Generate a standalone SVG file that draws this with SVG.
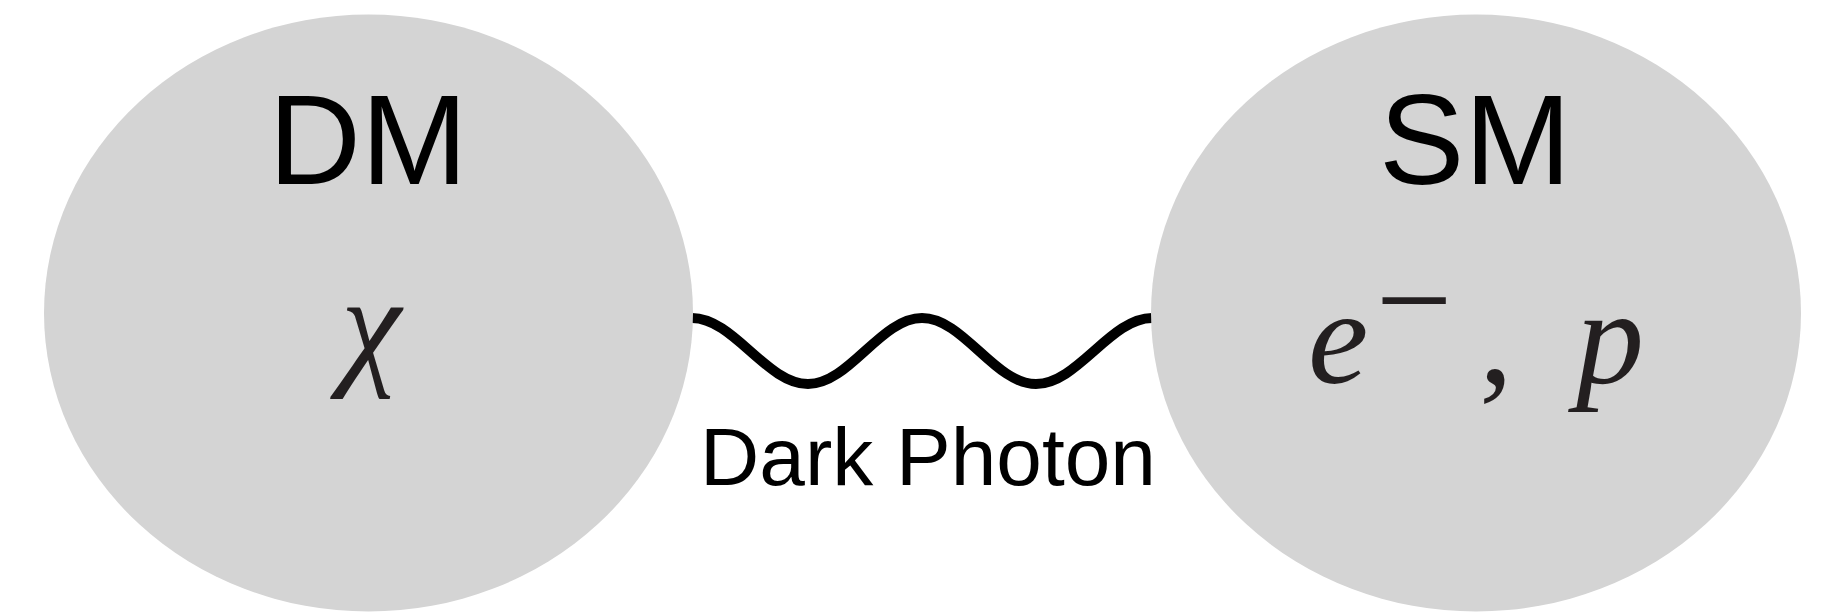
<svg xmlns="http://www.w3.org/2000/svg" width="1834" height="613" viewBox="0 0 1834 613">
<style>
.blob{fill:#d4d4d4;stroke:none}
.title{font-family:"Liberation Sans",Arial,sans-serif;font-size:128px;fill:#000;text-anchor:middle}
.math{font-family:"Liberation Serif","Times New Roman",serif;font-style:italic;font-size:136px;fill:#231f20}
.mathup{font-family:"Liberation Serif","Times New Roman",serif;font-size:136px;fill:#231f20}
.wave{fill:none;stroke:#000;stroke-width:10}
.label{font-family:"Liberation Sans",Arial,sans-serif;font-size:82px;fill:#000;text-anchor:middle}
</style>
<rect width="1834" height="613" fill="#fff"/>
<g id="connectors">
<path class="wave" d="M692 318 C733.5 318 766.5 384 808 384 S880.5 318 922 318 S994.5 384 1036 384 S1110.5 318 1152 318"/>
<text class="label" x="928" y="485">Dark Photon</text>
</g>
<g id="node-dm">
<ellipse class="blob" cx="368.5" cy="313" rx="324.5" ry="298.5"/>
<text class="title" x="368" y="184">DM</text>
<text class="math" x="341" y="370">χ</text>
</g>
<g id="node-sm">
<ellipse class="blob" cx="1476" cy="313" rx="325" ry="298.5"/>
<text class="title" x="1475" y="184">SM</text>
<text class="math" x="1308" y="383">e</text>
<text class="mathup" x="1414" y="346" font-size="115" text-anchor="middle">−</text>
<text class="mathup" x="1479" y="383">,</text>
<text class="math" x="1576" y="383">p</text>
</g>
</svg>
